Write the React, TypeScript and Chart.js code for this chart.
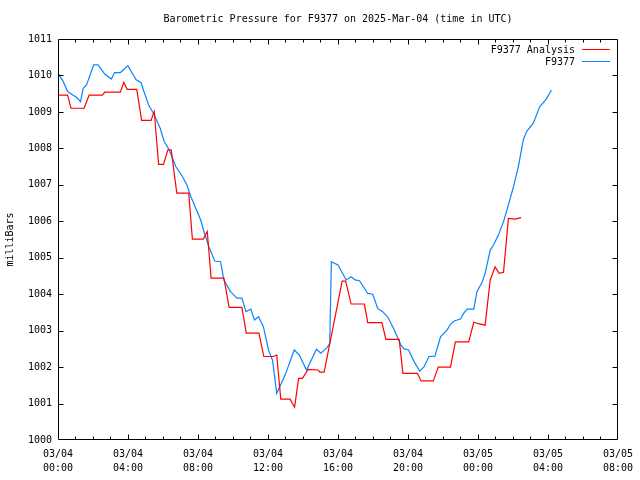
import React, { useEffect, useRef } from "react";
import { Chart, registerables } from "chart.js";

Chart.register(...registerables);

// Hours since 2025-03-04 00:00 UTC
const stationHours = [0.0, 0.30, 0.55, 0.87, 1.06, 1.29, 1.44, 1.63, 2.04, 2.29, 2.67, 3.05, 3.23, 3.57, 3.99, 4.47, 4.75, 4.94, 5.18, 5.50, 5.84, 6.07, 6.35, 6.73, 7.11, 7.36, 7.59, 8.15, 8.34, 8.62, 8.96, 9.29, 9.48, 9.86, 10.23, 10.51, 10.74, 11.02, 11.23, 11.46, 11.74, 12.03, 12.26, 12.50, 12.98, 13.50, 13.79, 14.20, 14.77, 15.02, 15.39, 15.53, 15.62, 16.00, 16.47, 16.75, 16.98, 17.23, 17.70, 17.99, 18.27, 18.55, 18.84, 19.22, 19.59, 19.78, 20.03, 20.35, 20.67, 20.92, 21.20, 21.54, 21.86, 22.24, 22.43, 22.68, 23.00, 23.19, 23.38, 23.76, 23.94, 24.23, 24.41, 24.70, 24.89, 25.17, 25.46, 25.74, 26.03, 26.31, 26.59, 26.78, 27.16, 27.53, 27.91, 28.20];
const stationPressure = [1010.06, 1009.83, 1009.56, 1009.46, 1009.40, 1009.28, 1009.65, 1009.74, 1010.29, 1010.29, 1010.04, 1009.90, 1010.08, 1010.08, 1010.27, 1009.88, 1009.80, 1009.52, 1009.19, 1008.92, 1008.55, 1008.19, 1007.96, 1007.50, 1007.23, 1007.00, 1006.68, 1006.04, 1005.72, 1005.30, 1004.91, 1004.89, 1004.39, 1004.07, 1003.89, 1003.89, 1003.52, 1003.59, 1003.29, 1003.38, 1003.11, 1002.47, 1002.19, 1001.28, 1001.78, 1002.47, 1002.33, 1001.92, 1002.49, 1002.38, 1002.54, 1002.65, 1004.89, 1004.80, 1004.39, 1004.48, 1004.39, 1004.37, 1004.02, 1004.00, 1003.61, 1003.52, 1003.38, 1003.02, 1002.61, 1002.50, 1002.47, 1002.15, 1001.89, 1002.01, 1002.29, 1002.30, 1002.83, 1003.02, 1003.18, 1003.27, 1003.32, 1003.48, 1003.59, 1003.59, 1004.07, 1004.32, 1004.57, 1005.21, 1005.35, 1005.62, 1005.99, 1006.45, 1006.95, 1007.50, 1008.23, 1008.46, 1008.69, 1009.14, 1009.36, 1009.60];

const analysisHours = [0.0, 0.55, 0.74, 1.49, 1.78, 2.54, 2.67, 3.56, 3.76, 3.95, 4.50, 4.78, 5.32, 5.50, 5.75, 6.03, 6.28, 6.47, 6.79, 7.47, 7.68, 8.30, 8.53, 8.75, 9.48, 9.78, 10.51, 10.76, 11.48, 11.76, 12.31, 12.50, 12.73, 13.26, 13.52, 13.75, 13.97, 14.30, 14.87, 14.96, 15.21, 16.24, 16.44, 16.75, 17.51, 17.70, 18.51, 18.74, 19.50, 19.71, 20.54, 20.75, 21.45, 21.73, 22.43, 22.71, 23.47, 23.76, 24.04, 24.41, 24.70, 24.98, 25.21, 25.46, 25.74, 26.12, 26.46];
const analysisPressure = [1009.46, 1009.46, 1009.10, 1009.10, 1009.46, 1009.46, 1009.54, 1009.54, 1009.81, 1009.62, 1009.62, 1008.77, 1008.77, 1009.01, 1007.56, 1007.56, 1007.96, 1007.96, 1006.77, 1006.77, 1005.51, 1005.51, 1005.72, 1004.44, 1004.44, 1003.64, 1003.64, 1002.93, 1002.93, 1002.29, 1002.29, 1002.33, 1001.12, 1001.12, 1000.90, 1001.69, 1001.69, 1001.94, 1001.92, 1001.86, 1001.86, 1004.36, 1004.36, 1003.73, 1003.73, 1003.22, 1003.22, 1002.76, 1002.76, 1001.83, 1001.83, 1001.62, 1001.62, 1002.00, 1002.00, 1002.69, 1002.69, 1003.23, 1003.19, 1003.15, 1004.39, 1004.75, 1004.57, 1004.60, 1006.08, 1006.06, 1006.10];

const tickDates = ["03/04", "03/04", "03/04", "03/04", "03/04", "03/04", "03/05", "03/05", "03/05"];
const tickTimes = ["00:00", "04:00", "08:00", "12:00", "16:00", "20:00", "00:00", "04:00", "08:00"];

const titleText = "Barometric Pressure for F9377 on 2025-Mar-04 (time in UTC)";
const seriesNames = ["F9377 Analysis", "F9377"];
const seriesColors = ["#ff0000", "#0a84ff"];

const FONT = "'DejaVu Sans Mono', 'Liberation Mono', monospace";

const framePlugin = {
  id: "gnuplotFrame",
  afterDraw(chart: any) {
    const { ctx, chartArea } = chart;
    const { left, right, top, bottom } = chartArea;
    const xs = chart.scales.x;
    const ys = chart.scales.y;
    ctx.save();
    // title, centred over the plot area
    ctx.font = `10px ${FONT}`;
    ctx.fillStyle = "#000";
    ctx.textAlign = "center";
    ctx.textBaseline = "middle";
    ctx.fillText(titleText, (left + right) / 2, 19);

    const L = Math.round(left) + 0.5;
    const R = Math.round(right) - 0.5;
    const T = Math.round(top) + 0.5;
    const B = Math.round(bottom) - 0.5;
    ctx.strokeStyle = "#000";
    ctx.lineWidth = 1;
    ctx.beginPath();
    ctx.rect(L, T, R - L, B - T);
    ctx.stroke();
    ctx.beginPath();
    for (let h = xs.min + 1; h < xs.max; h += 1) {
      const len = h % 4 === 0 ? 5 : 3;
      const px = Math.round(xs.getPixelForValue(h)) + 0.5;
      ctx.moveTo(px, B);
      ctx.lineTo(px, B - len);
      ctx.moveTo(px, T);
      ctx.lineTo(px, T + len);
    }
    for (let v = ys.min + 1; v < ys.max; v += 1) {
      const py = Math.round(ys.getPixelForValue(v)) + 0.5;
      ctx.moveTo(L, py);
      ctx.lineTo(L + 5, py);
      ctx.moveTo(R, py);
      ctx.lineTo(R - 5, py);
    }
    ctx.stroke();
    // legend
    ctx.textAlign = "right";
    seriesNames.forEach((name, i) => {
      const y = 50 + i * 12;
      ctx.fillText(name, 575, y);
      ctx.strokeStyle = seriesColors[i];
      ctx.beginPath();
      ctx.moveTo(582, y - 0.5);
      ctx.lineTo(610, y - 0.5);
      ctx.stroke();
    });
    ctx.restore();
  },
};

export default function App() {
  const ref = useRef<HTMLCanvasElement>(null);
  useEffect(() => {
    if (!ref.current) return;
    const chart = new Chart(ref.current, {
      type: "line",
      data: {
        datasets: [
          {
            label: seriesNames[0],
            data: analysisHours.map((h, i) => ({ x: h, y: analysisPressure[i] })),
            borderColor: seriesColors[0],
            borderWidth: 1.2,
            pointRadius: 0,
            tension: 0,
            fill: false,
          },
          {
            label: seriesNames[1],
            data: stationHours.map((h, i) => ({ x: h, y: stationPressure[i] })),
            borderColor: seriesColors[1],
            borderWidth: 1.2,
            pointRadius: 0,
            tension: 0,
            fill: false,
          },
        ],
      },
      options: {
        responsive: false,
        animation: false,
        devicePixelRatio: 1,
        layout: { padding: { left: 0, right: 18, top: 39, bottom: 0 } },
        plugins: {
          legend: { display: false },
          tooltip: { enabled: false },
          title: { display: false },
        },
        scales: {
          x: {
            type: "linear",
            min: 0,
            max: 32,
            grid: { display: false, drawTicks: false },
            border: { display: false },
            afterFit: (s: any) => {
              s.height = 40;
            },
            afterBuildTicks: (s: any) => {
              s.ticks = tickTimes.map((_, i) => ({ value: i * 4 }));
            },
            ticks: {
              color: "#000",
              font: { family: FONT, size: 10, lineHeight: 1.4 },
              padding: 7,
              maxRotation: 0,
              autoSkip: false,
              callback: (v: any) => {
                const i = Math.round(Number(v) / 4);
                return [tickDates[i], tickTimes[i]];
              },
            },
          },
          y: {
            min: 1000,
            max: 1011,
            grid: { display: false, drawTicks: false },
            border: { display: false },
            afterFit: (s: any) => {
              s.width = 58;
            },
            ticks: {
              stepSize: 1,
              color: "#000",
              font: { family: FONT, size: 10 },
              padding: 6,
              callback: (v: any) => String(v),
            },
            title: {
              display: true,
              text: "milliBars",
              color: "#000",
              font: { family: FONT, size: 10, lineHeight: 1.2 },
              padding: { top: 4, bottom: 0 },
            },
          },
        },
      },
      plugins: [framePlugin],
    });
    return () => chart.destroy();
  }, []);
  return (
    <div style={{ position: "absolute", left: 0, top: 0, width: 640, height: 480, background: "#fff" }}>
      <canvas ref={ref} width={640} height={480} style={{ display: "block" }} />
    </div>
  );
}
